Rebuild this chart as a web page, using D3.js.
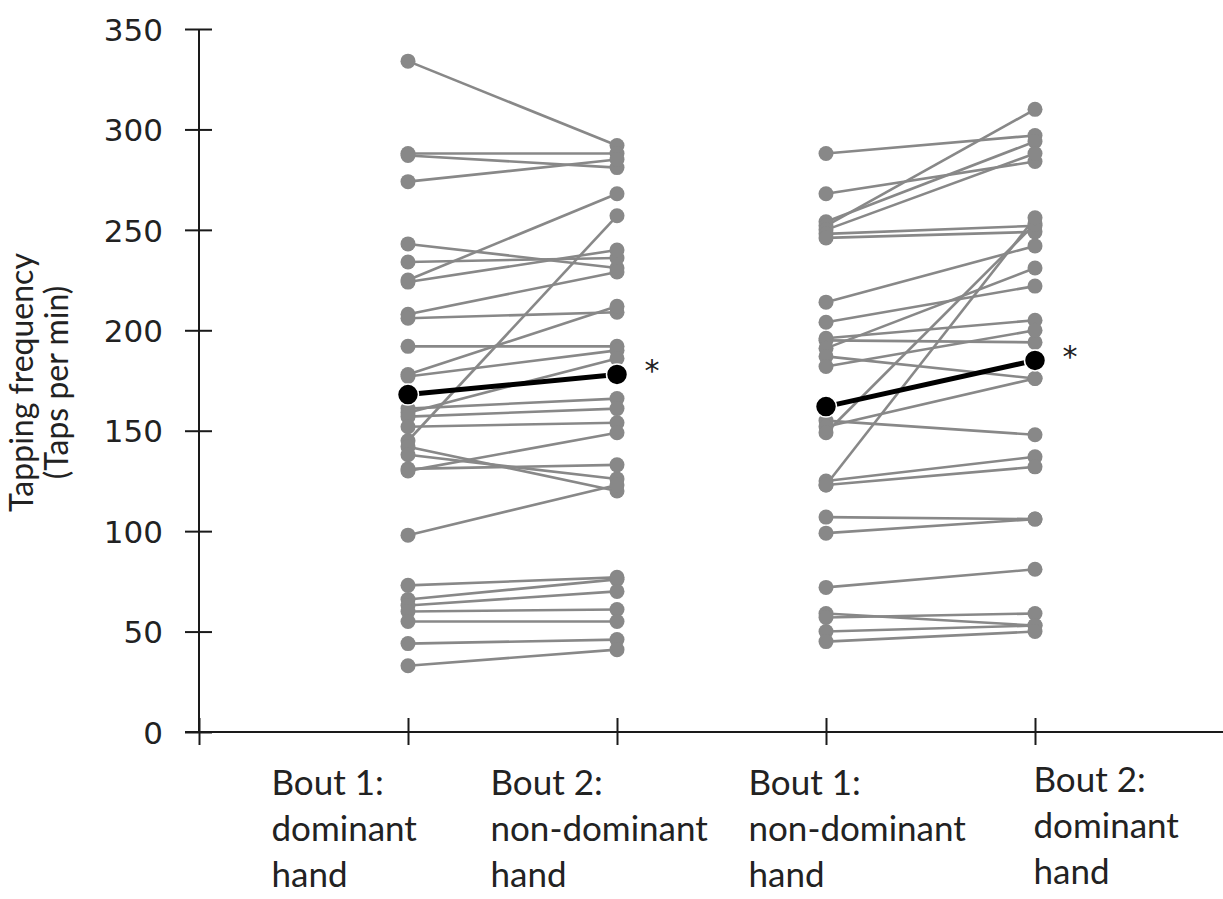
<!DOCTYPE html>
<html>
<head>
<meta charset="utf-8">
<script src="https://cdn.jsdelivr.net/npm/d3@7"></script>
<style>
  html, body { margin: 0; padding: 0; background: #fff; }
  svg { display: block; }
</style>
</head>
<body>
<svg id="chart" width="1223" height="899"></svg>
<script>
// ---------------- DATA ----------------
const categories = ["origin", "b1dom", "b2nondom", "b1nondom", "b2dom"];
const categoryLines = [
  [],
  ["Bout 1:", "dominant", "hand"],
  ["Bout 2:", "non-dominant", "hand"],
  ["Bout 1:", "non-dominant", "hand"],
  ["Bout 2:", "dominant", "hand"]
];
const yTicks = [0, 50, 100, 150, 200, 250, 300, 350];
const yTitle = ["Tapping frequency", "(Taps per min)"];

// Group A: bout 1 dominant -> bout 2 non-dominant
const groupA_bout1 = [334, 288, 287, 274, 243, 234, 225, 224, 208, 206, 192, 178, 177, 161, 159, 157, 152, 145, 142, 138, 131, 130, 98, 73, 66, 63, 60, 55, 44, 33];
const groupA_bout2 = [292, 288, 281, 285, 231, 236, 268, 240, 229, 209, 192, 212, 190, 166, 186, 161, 154, 257, 120, 126, 133, 149, 123, 77, 76, 70, 61, 55, 46, 41];
// Group B: bout 1 non-dominant -> bout 2 dominant
const groupB_bout1 = [288, 268, 254, 252, 250, 248, 246, 214, 204, 196, 195, 191, 187, 182, 155, 152, 149, 125, 123, 123, 107, 99, 72, 59, 57, 50, 45];
const groupB_bout2 = [297, 284, 294, 310, 288, 252, 249, 242, 222, 205, 194, 231, 176, 200, 148, 176, 253, 137, 132, 256, 106, 106, 81, 53, 59, 53, 50];
// Group means
const meanA = [168, 178];
const meanB = [162, 185];
const significance = ["*", "*"];

// ---------------- LAYOUT ----------------
const svg = d3.select("#chart");
const GRAY = "#888888";

const y = d3.scaleLinear().domain([0, 350]).range([732, 29]);
const x = d3.scalePoint().domain(categories).range([199, 1035]);

// Y axis
const yAxisG = svg.append("g")
  .attr("transform", `translate(${x("origin")},0)`)
  .call(d3.axisLeft(y).tickValues(yTicks).tickSize(0).tickSizeOuter(0).tickFormat(d3.format("d")));
yAxisG.select(".domain").attr("stroke", "#1a1a1a").attr("stroke-width", 2)
  .attr("d", `M0,${y(350)}V${y(0)}`);
yAxisG.selectAll(".tick line").attr("x1", -14).attr("x2", 13)
  .attr("stroke", "#1a1a1a").attr("stroke-width", 2);
yAxisG.selectAll(".tick text")
  .attr("x", -36).attr("dy", "0.36em")
  .style("font-family", "'DejaVu Sans', Verdana, sans-serif")
  .style("font-size", "31px").attr("fill", "#222");

// X axis
const xAxisG = svg.append("g")
  .attr("transform", `translate(0,${y(0)})`)
  .call(d3.axisBottom(x).tickSize(0).tickSizeOuter(0).tickFormat(""));
xAxisG.select(".domain").attr("stroke", "#1a1a1a").attr("stroke-width", 2)
  .attr("d", "M185,0H1223");
xAxisG.selectAll(".tick line").attr("y1", -14).attr("y2", 13)
  .attr("stroke", "#1a1a1a").attr("stroke-width", 2);

const labelDx = [0, -137, -127, -78, -2];
const labelDy = [0, 0, 0, 0, -3];
xAxisG.selectAll(".tick").each(function(d, i) {
  const t = d3.select(this).select("text");
  t.text(null).attr("y", 0).attr("dy", null)
    .attr("text-anchor", "start")
    .style("font-family", "Lato, 'Open Sans', sans-serif")
    .style("font-size", "35px").attr("fill", "#222");
  categoryLines[i].forEach((line, k) => {
    t.append("tspan").attr("x", labelDx[i]).attr("y", 63 + labelDy[i] + k * 46).text(line);
  });
});

// Y title
const titleG = svg.append("g").attr("transform", `translate(0,${(y(0) + y(350)) / 2 + 2}) rotate(-90)`);
titleG.selectAll("text").data(yTitle).join("text")
  .attr("x", 0).attr("y", (d, i) => 33 + i * 35)
  .attr("text-anchor", "middle")
  .style("font-family", "Lato, 'Open Sans', sans-serif")
  .style("font-size", "32px").attr("fill", "#222")
  .text(d => d);

// Individual lines
function drawGroup(b1, b2, c1, c2) {
  const pairs = b1.map((v, i) => [v, b2[i]]);
  svg.append("g").selectAll("line").data(pairs).join("line")
    .attr("x1", x(c1)).attr("x2", x(c2))
    .attr("y1", d => y(d[0])).attr("y2", d => y(d[1]))
    .attr("stroke", GRAY).attr("stroke-width", 2.6);
  svg.append("g").selectAll("circle").data(b1).join("circle")
    .attr("cx", x(c1)).attr("cy", d => y(d)).attr("r", 7.5).attr("fill", GRAY);
  svg.append("g").selectAll("circle").data(b2).join("circle")
    .attr("cx", x(c2)).attr("cy", d => y(d)).attr("r", 7.5).attr("fill", GRAY);
}
drawGroup(groupA_bout1, groupA_bout2, "b1dom", "b2nondom");
drawGroup(groupB_bout1, groupB_bout2, "b1nondom", "b2dom");

// Means
function drawMean(m, c1, c2, star) {
  svg.append("line")
    .attr("x1", x(c1)).attr("x2", x(c2))
    .attr("y1", y(m[0])).attr("y2", y(m[1]))
    .attr("stroke", "#000").attr("stroke-width", 5);
  svg.append("g").selectAll("circle").data([[c1, m[0]], [c2, m[1]]]).join("circle")
    .attr("cx", d => x(d[0])).attr("cy", d => y(d[1])).attr("r", 10.5)
    .attr("fill", "#000").attr("stroke", "#fff").attr("stroke-width", 1.5);
  svg.append("text")
    .attr("x", x(c2) + 35).attr("y", y(m[1]) + 7)
    .attr("text-anchor", "middle")
    .style("font-family", "'DejaVu Sans', sans-serif")
    .style("font-size", "30px").attr("fill", "#222")
    .text(star);
}
drawMean(meanA, "b1dom", "b2nondom", significance[0]);
drawMean(meanB, "b1nondom", "b2dom", significance[1]);
</script>
</body>
</html>
